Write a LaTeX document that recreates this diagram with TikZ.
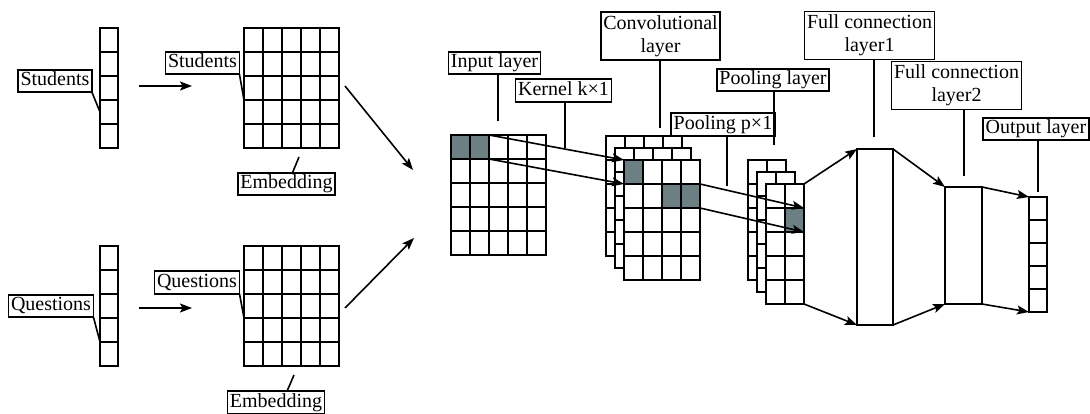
\documentclass[tikz,border=0pt]{standalone}
\usepackage{fontspec}
\setmainfont{Liberation Serif}
\usetikzlibrary{arrows.meta}
\definecolor{cellgrey}{RGB}{108,128,131}
\tikzset{every picture/.style={line width=1.6pt}}
\tikzset{
  cell/.style={draw, fill=white, inner sep=0pt, outer sep=0pt, anchor=north west, minimum width=19pt, minimum height=24pt},
  hot/.style={fill=cellgrey},
  bar/.style={draw, fill=white, inner sep=0pt, outer sep=0pt, anchor=north west},
  tag/.style={draw, fill=white, inner xsep=2.5pt, inner ysep=2pt, outer sep=0pt, font=\rmfamily\fontsize{20}{22}\selectfont, text height=14pt, text depth=4.5pt},
  tagtwo/.style={draw, fill=white, inner xsep=2.5pt, inner ysep=3.5pt, outer sep=0pt, align=center, font=\rmfamily\fontsize{20}{23}\selectfont},
  arr/.style={-{Stealth[length=12pt,width=9pt,inset=2.5pt]}},
}

\begin{document}
\begin{tikzpicture}[x=1pt,y=1pt,yscale=-1,xscale=1]
\useasboundingbox (0,0) rectangle (1090,414);

% Vectors
\foreach \r in {0,...,4}{
  \node[cell, minimum width=18pt] (sv-\r) at (100,28+24*\r) {};
  \node[cell, minimum width=18pt] (qv-\r) at (100,246+24*\r) {};
  \node[cell, minimum width=18pt, minimum height=23pt] (out-\r) at (1029,197+23*\r) {};
}
% Embedding grids and input layer
\foreach \r in {0,...,4}{
  \foreach \c in {0,...,4}{
    \node[cell] (se-\r-\c) at (244+19*\c,28+24*\r) {};
    \node[cell] (qe-\r-\c) at (244+19*\c,246+24*\r) {};
    \node[cell] (in-\r-\c) at (451+19*\c,135+24*\r) {};
  }
}
\foreach \c in {0,1}
  \node[cell, hot] (in-0-\c) at (451+19*\c,135) {};

% Convolutional layer
\foreach \g/\x/\y in {cb/606/136, cm/615/148, cf/624/160}{
  \foreach \r in {0,...,4}{
    \foreach \c in {0,...,3}
      \node[cell] (\g-\r-\c) at (\x+19*\c,\y+24*\r) {};
  }
}
\foreach \r/\c in {0/0, 1/2, 1/3}
  \node[cell, hot] (cf-\r-\c) at (624+19*\c,160+24*\r) {};

% Pooling layer
\foreach \g/\x/\y in {pb/748/160, pm/757/172, pf/766/184}{
  \foreach \r in {0,...,4}{
    \foreach \c in {0,1}
      \node[cell] (\g-\r-\c) at (\x+19*\c,\y+24*\r) {};
  }
}
\node[cell, hot] (pf-1-1) at (785,208) {};

% Full connection layers
\node[bar, minimum width=36pt, minimum height=176pt] (fc1) at (857,149) {};
\node[bar, minimum width=37pt, minimum height=117pt] (fc2) at (945,187) {};

% Text Node
\node[tag] (lbs1) at (55,81) {Students};
\node[tag] (lbs2) at (202.5,63) {Students};
\node[tag] (lbe1) at (286.5,184) {Embedding};
\node[tag] (lbq1) at (51,306) {Questions};
\node[tag] (lbq2) at (197,282.5) {Questions};
\node[tag] (lbe2) at (276,402.5) {Embedding};
\node[tag] (lbin) at (494.5,63) {Input layer};
\node[tag] (lbk) at (563.5,90.5) {Kernel k×1};
\node[tagtwo] (lbcv) at (660.5,36) {Convolutional\\layer};
\node[tag] (lbpk) at (723,124.5) {Pooling p×1};
\node[tag] (lbpl) at (773,80) {Pooling layer};
\node[tagtwo] (lbf1) at (869.5,35.5) {Full connection\\layer1};
\node[tagtwo] (lbf2) at (956.5,85.5) {Full connection\\layer2};
\node[tag] (lbout) at (1036,129) {Output layer};

% Coordinates
\coordinate (sa1) at (139,86);
\coordinate (sa2) at (192,86);
\coordinate (qa1) at (139,308);
\coordinate (qa2) at (192,308);
\coordinate (sd1) at (345,86);
\coordinate (sd2) at (413,170);
\coordinate (qd1) at (345,308);
\coordinate (qd2) at (414,238);
\coordinate (ke1) at (299,157);
\coordinate (ke2) at (294,375);
\coordinate (kin) at (498,121);
\coordinate (kk) at (565,148);
\coordinate (kcv) at (660,128);
\coordinate (kpk) at (727,186);
\coordinate (kpl) at (774,145);
\coordinate (kf1) at (874,137);
\coordinate (kf2) at (964,176);
\coordinate (kout) at (1038,192);

% Connection
\draw[arr] (sa1) -- (sa2);
\draw[arr] (qa1) -- (qa2);
\draw[arr] (sd1) -- (sd2);
\draw[arr] (qd1) -- (qd2);
\draw[arr] (in-0-1.north east) -- (cf-0-0.north west);
\draw[arr] (in-0-1.south east) -- (cf-0-0.south west);
\draw[arr] (cf-1-3.north east) -- (pf-1-1.north east);
\draw[arr] (cf-1-3.south east) -- (pf-1-1.south east);
\draw[arr] (pf-0-1.north east) -- (fc1.north west);
\draw[arr] (pf-4-1.south east) -- (fc1.south west);
\draw[arr] (fc1.north east) -- (fc2.north west);
\draw[arr] (fc1.south east) -- (fc2.south west);
\draw[arr] (fc2.north east) -- (out-0.north west);
\draw[arr] (fc2.south east) -- (out-4.south west);

% Leaders
\draw (lbs1.south east) -- (sv-3.west);
\draw (lbs2.south east) -- (se-2-0.south west);
\draw ([xshift=6pt]lbe1.north) -- (ke1);
\draw (lbq1.south east) -- (qv-3.south west);
\draw (lbq2.south east) -- (qe-2-0.south west);
\draw ([xshift=11pt]lbe2.north) -- (ke2);
\draw (lbin.south -| kin) -- (kin);
\draw (lbk.south -| kk) -- (kk);
\draw (lbcv.south -| kcv) -- (kcv);
\draw (lbpk.south -| kpk) -- (kpk);
\draw (lbpl.south -| kpl) -- (kpl);
\draw (lbf1.south -| kf1) -- (kf1);
\draw (lbf2.south -| kf2) -- (kf2);
\draw (lbout.south -| kout) -- (kout);

\end{tikzpicture}
\end{document}
